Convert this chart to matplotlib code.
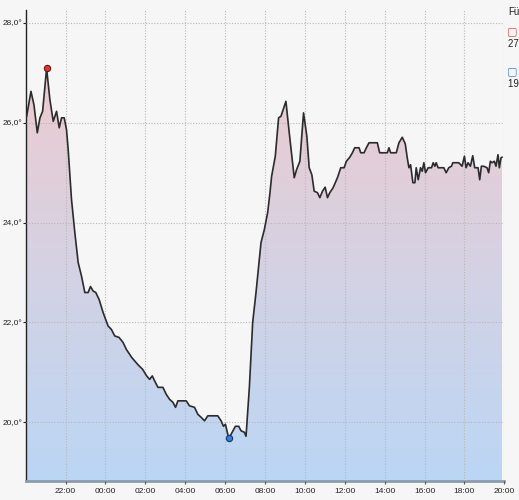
import numpy as np
import matplotlib
matplotlib.use('Agg')
import matplotlib.pyplot as plt
from matplotlib.colors import LinearSegmentedColormap
from matplotlib.ticker import FuncFormatter

plt.rcParams['font.family'] = ['Liberation Sans', 'DejaVu Sans']

# Minuten seit 20:00 und Temperatur in °C
minutes = [3, 16, 25, 35, 43, 51, 63, 73, 83, 93, 101, 108, 116, 123, 128, 138,
           148, 158, 168, 178, 188, 195, 203, 211, 221, 233, 248, 258, 268, 281,
           293, 303, 319, 337, 352, 364, 373, 381, 388, 398, 413, 423, 433, 443,
           451, 458, 483, 493, 508, 518, 528, 538, 548, 578, 588, 595, 601, 611,
           618, 631, 641, 648, 658, 663, 673, 683, 693, 701, 708, 718, 728, 735,
           740, 751, 761, 768, 783, 793, 801, 808, 815, 825, 836, 846, 853, 861,
           868, 878, 885, 893, 901, 908, 915, 925, 938, 948, 958, 965, 975, 983,
           990, 1003, 1008, 1018, 1025, 1033, 1058, 1065, 1088, 1093, 1098, 1115,
           1123, 1133, 1142, 1148, 1153, 1158, 1165, 1171, 1175, 1181, 1188, 1193,
           1198, 1203, 1211, 1221, 1226, 1231, 1235, 1241, 1258, 1265, 1273, 1281,
           1285, 1303, 1313, 1320, 1325, 1331, 1338, 1345, 1351, 1361, 1366, 1371,
           1378, 1388, 1393, 1398, 1403, 1410, 1415, 1421, 1425, 1430, 1433]
temps = [26.13, 26.63, 26.36, 25.8, 26.1, 26.23, 27.09, 26.46, 26.03, 26.23, 25.9,
         26.1, 26.1, 25.86, 25.46, 24.46, 23.8, 23.2, 22.93, 22.6, 22.6, 22.72,
         22.63, 22.6, 22.46, 22.2, 21.93, 21.86, 21.73, 21.7, 21.6, 21.46, 21.3,
         21.16, 21.06, 20.93, 20.86, 20.93, 20.83, 20.7, 20.7, 20.56, 20.46, 20.4,
         20.3, 20.43, 20.43, 20.33, 20.3, 20.16, 20.1, 20.03, 20.13, 20.13, 20.03,
         19.92, 19.96, 19.68, 19.76, 19.92, 19.92, 19.83, 19.8, 19.72, 20.7, 22.0,
         22.6, 23.13, 23.6, 23.86, 24.2, 24.6, 24.93, 25.33, 26.1, 26.13, 26.43,
         25.8, 25.33, 24.9, 25.06, 25.23, 26.2, 25.73, 25.1, 24.96, 24.63, 24.6,
         24.5, 24.63, 24.71, 24.5, 24.6, 24.7, 24.9, 25.1, 25.1, 25.23, 25.31,
         25.4, 25.5, 25.5, 25.4, 25.4, 25.5, 25.6, 25.6, 25.4, 25.4, 25.5, 25.4,
         25.4, 25.6, 25.71, 25.58, 25.3, 25.1, 25.16, 24.8, 24.8, 25.1, 24.86,
         25.1, 25.03, 25.2, 25.0, 25.1, 25.1, 25.2, 25.13, 25.2, 25.1, 25.1, 25.0,
         25.1, 25.13, 25.2, 25.2, 25.13, 25.33, 25.1, 25.2, 25.13, 25.34, 25.1,
         25.1, 24.86, 25.13, 25.13, 25.1, 25.0, 25.23, 25.2, 25.23, 25.13, 25.36,
         25.1, 25.3, 25.31]

tick_minutes = [120, 240, 360, 480, 600, 720, 840, 960, 1080, 1200, 1320, 1440]
tick_labels = ['22:00', '00:00', '02:00', '04:00', '06:00', '08:00',
               '10:00', '12:00', '14:00', '16:00', '18:00', '20:00']
y_ticks = [20, 22, 24, 26, 28]

legend_title = 'Fühler'
max_text = '27,1° um 21:03'
min_text = '19,7° um 06:11'

x = np.array(minutes)
y = np.array(temps)
xmin, xmax = 2, 1440
ymin, ymax = 18.83, 28.26

bg = '#f6f6f6'
fig = plt.figure(figsize=(5.19, 5.0), dpi=100, facecolor=bg)
ax = fig.add_axes([0.0507, 0.0386, 0.921, 0.9414], facecolor=bg)

# Farbverlauf unter der Kurve
cmap = LinearSegmentedColormap.from_list('temp', ['#bbd6f5', '#d4d2e4', '#eecbcf'])
grad = np.linspace(0, 1, 256).reshape(-1, 1)
im = ax.imshow(grad, extent=[xmin, xmax, ymin, 27.2], origin='lower',
               aspect='auto', cmap=cmap, zorder=1)
poly = ax.fill_between(x, y, ymin, facecolor='none', edgecolor='none')
im.set_clip_path(poly.get_paths()[0], transform=ax.transData)

ax.plot(x, y, color='#2b2b2b', linewidth=1.2, zorder=3)

imax = int(np.argmax(y))
imin = int(np.argmin(y))
ax.plot(x[imax], y[imax], 'o', color='#e8352c', markeredgecolor='#5a1a16',
        markersize=4.5, markeredgewidth=0.8, zorder=4)
ax.plot(x[imin], y[imin], 'o', color='#2f7fe6', markeredgecolor='#1a3560',
        markersize=4.5, markeredgewidth=0.8, zorder=4)

ax.set_xlim(xmin, xmax)
ax.set_ylim(ymin, ymax)
ax.set_xticks(tick_minutes)
ax.set_xticklabels(tick_labels)
ax.set_yticks(y_ticks)
ax.yaxis.set_major_formatter(FuncFormatter(lambda v, p: f'{v:.1f}°'.replace('.', ',')))

ax.grid(True, color='#b8b8b8', linestyle=(0, (1, 1.5)), linewidth=0.8, zorder=2)
ax.set_axisbelow(False)
for gl in ax.get_xgridlines() + ax.get_ygridlines():
    gl.set_zorder(2)

ax.spines['top'].set_visible(False)
ax.spines['right'].set_visible(False)
ax.spines['left'].set_color('#222222')
ax.spines['left'].set_linewidth(1.0)
ax.spines['bottom'].set_color('#8c9aab')
ax.spines['bottom'].set_linewidth(2.0)
ax.tick_params(axis='both', labelsize=6, colors='#222222', length=2, width=0.8, pad=1)
ax.tick_params(axis='x', colors='#555555', labelcolor='#222222', pad=3)

# Legende am rechten Rand (abgeschnitten wie im Original)
fig.text(508 / 519, 1 - 12 / 500, legend_title, fontsize=7, color='#222222', va='center')
fig.text(507 / 519, 1 - 31 / 500, '\u25a2', fontsize=8, color='#e04a3f', va='center')
fig.text(508 / 519, 1 - 43 / 500, max_text, fontsize=7, color='#222222', va='center')
fig.text(507 / 519, 1 - 71 / 500, '\u25a2', fontsize=8, color='#3a7de0', va='center')
fig.text(508 / 519, 1 - 84 / 500, min_text, fontsize=7, color='#222222', va='center')

fig.savefig('out.png', dpi=100, facecolor=bg)
